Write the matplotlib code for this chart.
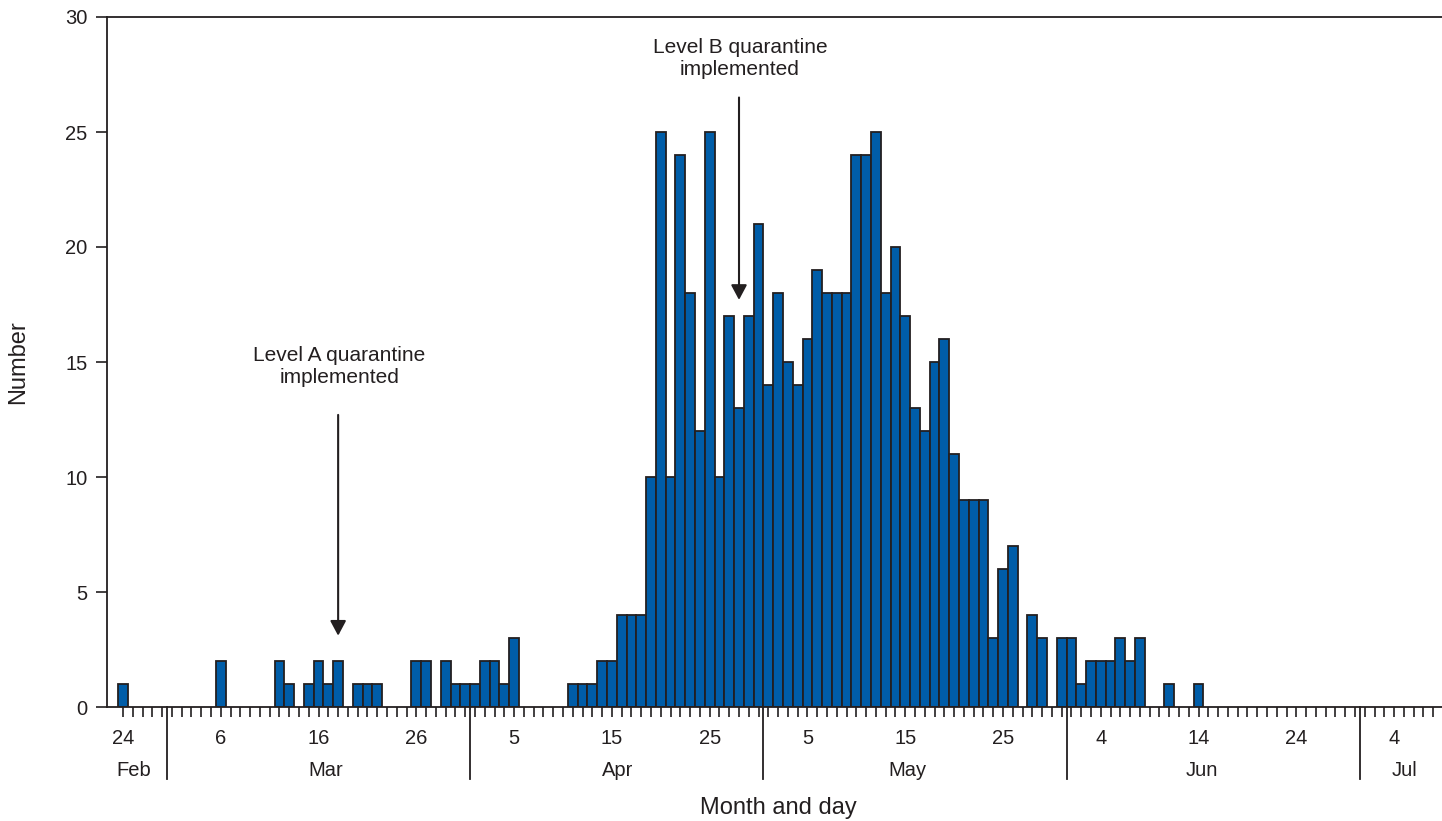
import numpy as np
import pandas as pd
import matplotlib
matplotlib.use("Agg")
import matplotlib.pyplot as plt
import matplotlib.transforms as mtransforms

# ---------------- data ----------------
start_date = "2003-02-24"
end_date = "2003-07-09"
counts = [
    1, 0, 0, 0, 0,                                   # Feb 24-28
    0, 0, 0, 0, 0, 2, 0, 0, 0, 0,                    # Mar 1-10
    0, 2, 1, 0, 1, 2, 1, 2, 0, 1,                    # Mar 11-20
    1, 1, 0, 0, 0, 2, 2, 0, 2, 1, 1,                 # Mar 21-31
    1, 2, 2, 1, 3, 0, 0, 0, 0, 0,                    # Apr 1-10
    1, 1, 1, 2, 2, 4, 4, 4, 10, 25,                  # Apr 11-20
    10, 24, 18, 12, 25, 10, 17, 13, 17, 21,          # Apr 21-30
    14, 18, 15, 14, 16, 19, 18, 18, 18, 24,          # May 1-10
    24, 25, 18, 20, 17, 13, 12, 15, 16, 11,          # May 11-20
    9, 9, 9, 3, 6, 7, 0, 4, 3, 0, 3,                 # May 21-31
    3, 1, 2, 2, 2, 3, 2, 3, 0, 0,                    # Jun 1-10
    1, 0, 0, 1, 0, 0, 0, 0, 0, 0,                    # Jun 11-20
    0, 0, 0, 0, 0, 0, 0, 0, 0, 0,                    # Jun 21-30
    0, 0, 0, 0, 0, 0, 0, 0, 0,                       # Jul 1-9
]
day_tick_labels = ["24", "6", "16", "26", "5", "15", "25", "5", "15", "25",
                   "4", "14", "24", "4"]
month_names = ["Feb", "Mar", "Apr", "May", "Jun", "Jul"]
event_dates = ["2003-03-18", "2003-04-28"]
event_labels = ["Level A quarantine\nimplemented",
                "Level B quarantine\nimplemented"]

# ---------------- layout / style ----------------
W, H = 1442, 821
BAR_COLOR = "#005DA8"
INK = "#231F20"
FONT = ["Liberation Sans", "DejaVu Sans"]
plt.rcParams["font.family"] = FONT

dates = pd.date_range(start_date, end_date, freq="D")
x = np.asarray((dates - dates[0]).days, dtype=float)
y = np.asarray(counts, dtype=float)

fig = plt.figure(figsize=(W / 100, H / 100), dpi=100)
ax_left, ax_right, ax_top, ax_bottom = 107, 1442, 17, 707
ax = fig.add_axes([ax_left / W, 1 - ax_bottom / H,
                   (ax_right - ax_left) / W, (ax_bottom - ax_top) / H])

mask = y > 0
ax.bar(x[mask], y[mask], width=1.0, color=BAR_COLOR, edgecolor=INK,
       linewidth=1.3, zorder=3)

ax.set_xlim(-1.64, 134.9)
ax.set_ylim(0, 30)

for s in ["right"]:
    ax.spines[s].set_visible(False)
for s in ["left", "top", "bottom"]:
    ax.spines[s].set_color(INK)
    ax.spines[s].set_linewidth(1.3)
ax.spines["bottom"].set_zorder(4)

# y ticks
ax.set_yticks(np.arange(0, 31, 5))
ax.tick_params(axis="y", direction="out", length=8, width=1.2, color=INK,
               labelsize=14.5, labelcolor=INK, pad=6)

# x ticks: daily minor, every 10 days labeled
major_x = x[::10][:len(day_tick_labels)]
ax.set_xticks(major_x)
ax.set_xticklabels(day_tick_labels)
ax.set_xticks(x[x <= 134.5], minor=True)
ax.tick_params(axis="x", which="both", direction="out", length=7.5,
               width=1.2, color=INK)
ax.tick_params(axis="x", which="major", labelsize=14.5, labelcolor=INK,
               pad=8)

# month separators and month labels
trans = mtransforms.blended_transform_factory(ax.transData, ax.transAxes)
ax_h = ax_bottom - ax_top
month_starts = x[dates.day == 1]
for ms in month_starts:
    ax.plot([ms - 0.5, ms - 0.5], [0, -72 / ax_h], transform=trans,
            color=INK, lw=1.3, clip_on=False, zorder=5)
month_label_pos = [1.1, 20.7, 50.6, 80.2, 110.3, 131.1]
for name, pos in zip(month_names, month_label_pos):
    ax.text(pos, -63 / ax_h, name, transform=trans, ha="center", va="center",
            fontsize=14.5, color=INK)

# annotations
ev_x = [float((pd.Timestamp(d) - dates[0]).days) for d in event_dates]
text_y = [14.8, 28.2]
arrow_start = [12.7, 26.5]
arrow_tip = [3.1, 17.7]
for ex, lab, ty, a0, a1 in zip(ev_x, event_labels, text_y, arrow_start, arrow_tip):
    ax.text(ex + 0.1, ty, lab, ha="center", va="center", fontsize=15,
            color=INK, linespacing=1.15, zorder=6)
    ax.annotate("", xy=(ex, a1), xytext=(ex, a0),
                arrowprops=dict(arrowstyle="-|>,head_length=0.45,head_width=0.24",
                                color=INK, lw=1.5, shrinkA=0, shrinkB=0,
                                mutation_scale=20),
                zorder=6)

# axis titles
fig.text(778 / W, 1 - 808 / H, "Month and day", ha="center", va="center",
         fontsize=17, color=INK)
fig.text(18 / W, 1 - 362 / H, "Number", ha="center", va="center",
         fontsize=17, color=INK, rotation=90)

fig.savefig("out.png", dpi=100)
